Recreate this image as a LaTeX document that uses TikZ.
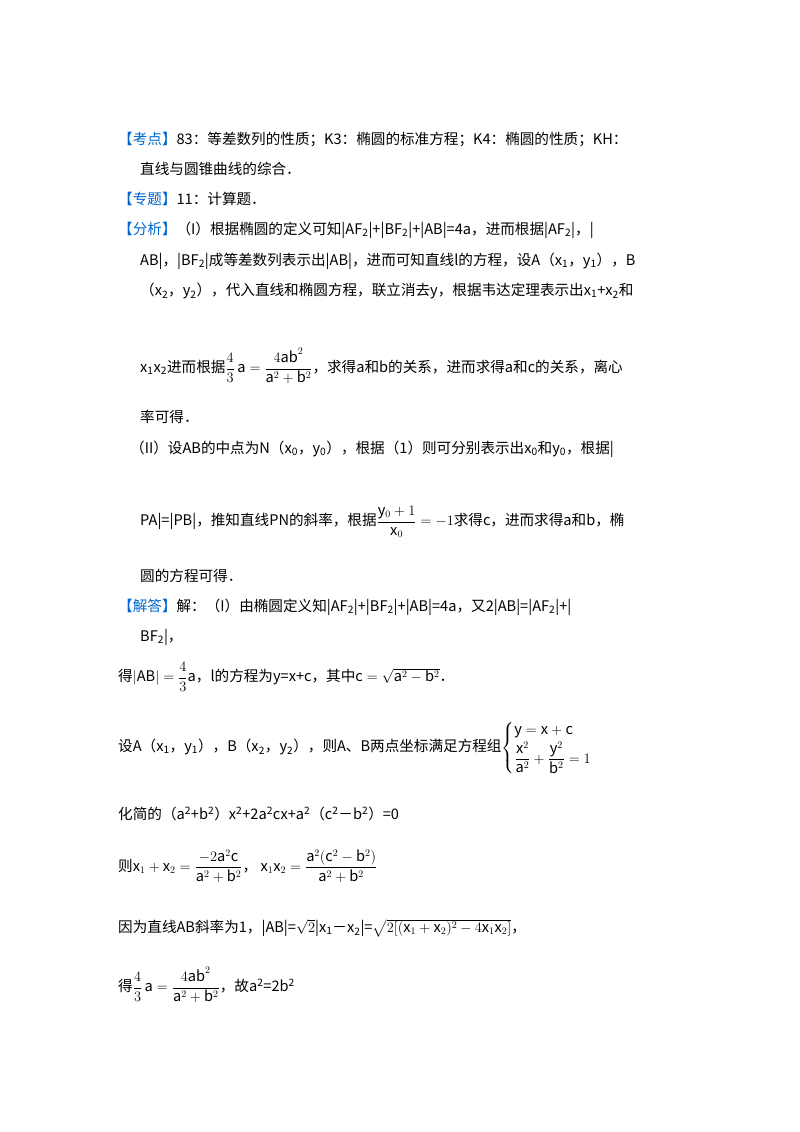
\documentclass[tikz,border=0pt]{standalone}
\usepackage{fontspec}
\usepackage{amsmath}
\setmainfont{Noto Sans CJK SC}
\definecolor{kblue}{RGB}{0,102,204}
\newcommand{\bk}[1]{\textcolor{kblue}{【#1】}}
\begin{document}
\begin{tikzpicture}[x=1pt,y=-1pt,every node/.style={anchor=west,inner sep=0pt},txt/.style={font=\fontsize{14.6}{17}\selectfont}]
\useasboundingbox (0,0) rectangle (800,1132);
\node[txt] (l1) at (118,139) {\bk{考点}83：等差数列的性质；K3：椭圆的标准方程；K4：椭圆的性质；KH：};
\node[txt] (l2) at (140,169) {直线与圆锥曲线的综合．};
\node[txt] (l3) at (118,199) {\bk{专题}11：计算题．};
\node[txt] (l4) at (118,230) {\bk{分析}（I）根据椭圆的定义可知|AF\textsubscript{2}|+|BF\textsubscript{2}|+|AB|=4a，进而根据|AF\textsubscript{2}|，|};
\node[txt] (l5) at (140,261) {AB|，|BF\textsubscript{2}|成等差数列表示出|AB|，进而可知直线l的方程，设A（x\textsubscript{1}，y\textsubscript{1}），B};
\node[txt] (l6) at (140,291) {（x\textsubscript{2}，y\textsubscript{2}），代入直线和椭圆方程，联立消去y，根据韦达定理表示出x\textsubscript{1}+x\textsubscript{2}和};
\node[txt] (l7) at (140,366) {x\textsubscript{1}x\textsubscript{2}进而根据$\dfrac{4}{3}\,\mathrm{a}=\dfrac{4\mathrm{ab}^2}{\mathrm{a}^2+\mathrm{b}^2}$，求得a和b的关系，进而求得a和c的关系，离心};
\node[txt] (l8) at (140,417) {率可得．};
\node[txt] (l9) at (130,449) {（II）设AB的中点为N（x\textsubscript{0}，y\textsubscript{0}），根据（1）则可分别表示出x\textsubscript{0}和y\textsubscript{0}，根据|};
\node[txt] (l10) at (140,522) {PA|=|PB|，推知直线PN的斜率，根据$\dfrac{\mathrm{y}_0+1}{\mathrm{x}_0}=-1$求得c，进而求得a和b，椭};
\node[txt] (l11) at (140,576) {圆的方程可得．};
\node[txt] (l12) at (118,607) {\bk{解答}解：（I）由椭圆定义知|AF\textsubscript{2}|+|BF\textsubscript{2}|+|AB|=4a，又2|AB|=|AF\textsubscript{2}|+|};
\node[txt] (l13) at (140,637) {BF\textsubscript{2}|，};
\node[txt] (l14) at (118,677) {得$|\mathrm{AB}|=\dfrac{4}{3}\mathrm{a}$，l的方程为y=x+c，其中$\mathrm{c}=\sqrt{\mathrm{a}^2-\mathrm{b}^2}$．};
\node[txt] (l15) at (118,748) {设A（x\textsubscript{1}，y\textsubscript{1}），B（x\textsubscript{2}，y\textsubscript{2}），则A、B两点坐标满足方程组$\left\{\begin{array}{@{}l}\mathrm{y}=\mathrm{x}+\mathrm{c}\\[2pt] \dfrac{\mathrm{x}^2}{\mathrm{a}^2}+\dfrac{\mathrm{y}^2}{\mathrm{b}^2}=1\end{array}\right.$};
\node[txt] (l16) at (118,814) {化简的（a\textsuperscript{2}+b\textsuperscript{2}）x\textsuperscript{2}+2a\textsuperscript{2}cx+a\textsuperscript{2}（c\textsuperscript{2}－b\textsuperscript{2}）=0};
\node[txt] (l17) at (118,866) {则$\mathrm{x}_1+\mathrm{x}_2=\dfrac{-2\mathrm{a}^2\mathrm{c}}{\mathrm{a}^2+\mathrm{b}^2}$，\ $\mathrm{x}_1\mathrm{x}_2=\dfrac{\mathrm{a}^2(\mathrm{c}^2-\mathrm{b}^2)}{\mathrm{a}^2+\mathrm{b}^2}$};
\node[txt] (l18) at (118,928) {因为直线AB斜率为1，|AB|=$\sqrt{2}$|x\textsubscript{1}－x\textsubscript{2}|=$\sqrt{2[(\mathrm{x}_1+\mathrm{x}_2)^2-4\mathrm{x}_1\mathrm{x}_2]}$，};
\node[txt] (l19) at (118,985) {得$\dfrac{4}{3}\,\mathrm{a}=\dfrac{4\mathrm{ab}^2}{\mathrm{a}^2+\mathrm{b}^2}$，故a\textsuperscript{2}=2b\textsuperscript{2}};
\end{tikzpicture}
\end{document}
